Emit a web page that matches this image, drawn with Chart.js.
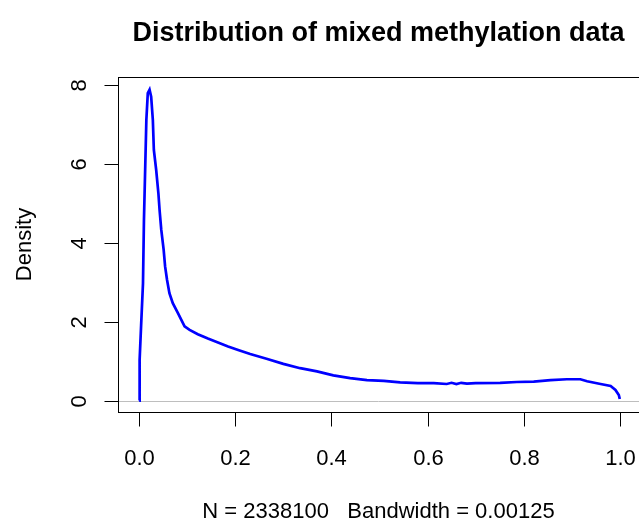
<!DOCTYPE html>
<html>
<head>
<meta charset="utf-8">
<script src="https://cdn.jsdelivr.net/npm/chart.js@4/dist/chart.umd.min.js"></script>
<style>
  body { margin: 0; background: #fff; }
  #wrap { width: 639px; height: 522px; }
</style>
</head>
<body>
<div id="wrap"><canvas id="density" width="639" height="522"></canvas></div>
<script>
// density curve
const xVals = [0.000, 0.001, 0.004, 0.008, 0.010, 0.0125, 0.015, 0.018, 0.0217, 0.025,
  0.0285, 0.0306, 0.0354, 0.040, 0.0425, 0.046, 0.051, 0.054, 0.058, 0.063,
  0.070, 0.081, 0.0875, 0.0945, 0.105, 0.122, 0.143, 0.164, 0.185, 0.206,
  0.231, 0.265, 0.300, 0.335, 0.370, 0.404, 0.439, 0.474, 0.509, 0.543,
  0.580, 0.613, 0.640, 0.650, 0.660, 0.670, 0.682, 0.700, 0.751, 0.786,
  0.821, 0.856, 0.890, 0.918, 0.932, 0.960, 0.981, 0.991, 0.998, 1.000];
const densVals = [0.00, 1.03, 1.88, 2.97, 4.58, 5.85, 7.11, 7.79, 7.88, 7.70,
  7.11, 6.35, 5.85, 5.26, 4.83, 4.33, 3.82, 3.40, 3.06, 2.72,
  2.47, 2.21, 2.05, 1.88, 1.79, 1.68, 1.57, 1.47, 1.37, 1.28,
  1.18, 1.06, 0.93, 0.82, 0.74, 0.64, 0.57, 0.52, 0.50, 0.46,
  0.44, 0.44, 0.42, 0.45, 0.42, 0.45, 0.43, 0.44, 0.45, 0.47,
  0.48, 0.52, 0.54, 0.54, 0.49, 0.42, 0.37, 0.27, 0.14, 0.04];
const xTicks = [0, 0.2, 0.4, 0.6, 0.8, 1.0];
const xTickLabels = ["0.0", "0.2", "0.4", "0.6", "0.8", "1.0"];
const yTicks = [0, 2, 4, 6, 8];
const yTickLabels = ["0", "2", "4", "6", "8"];
const titleText = "Distribution of mixed methylation data";
const subText = "N = 2338100   Bandwidth = 0.00125";
const yTitle = "Density";

const pts = xVals.map((x, i) => ({ x: x, y: densVals[i] }));

// R style box, axes and text
const rAxes = {
  id: "rAxes",
  beforeDatasetsDraw(chart) {
    const ctx = chart.ctx;
    const a = chart.chartArea;
    const y0 = Math.round(chart.scales.y.getPixelForValue(0)) + 0.5;
    ctx.save();
    ctx.strokeStyle = "#bebebe";
    ctx.lineWidth = 1;
    ctx.beginPath();
    ctx.moveTo(a.left, y0);
    ctx.lineTo(a.right, y0);
    ctx.stroke();
    ctx.restore();
  },
  afterDraw(chart) {
    const ctx = chart.ctx;
    const a = chart.chartArea;
    const xs = chart.scales.x, ys = chart.scales.y;
    ctx.save();
    ctx.strokeStyle = "#000";
    ctx.lineWidth = 1;
    const L = Math.round(a.left) + 0.5, B = Math.round(a.bottom) + 0.5, T = Math.round(a.top) + 0.5;
    ctx.strokeRect(L, T, 700, B - T);

    ctx.fillStyle = "#000";
    ctx.font = "22px 'Liberation Sans', Arial, sans-serif";
    ctx.textAlign = "center";
    ctx.textBaseline = "alphabetic";
    xTicks.forEach((v, i) => {
      const px = Math.round(xs.getPixelForValue(v)) + 0.5;
      ctx.beginPath();
      ctx.moveTo(px, B);
      ctx.lineTo(px, B + 14);
      ctx.stroke();
      ctx.fillText(xTickLabels[i], px, 465);
    });
    yTicks.forEach((v, i) => {
      const py = Math.round(ys.getPixelForValue(v)) + 0.5;
      ctx.beginPath();
      ctx.moveTo(L, py);
      ctx.lineTo(L - 14, py);
      ctx.stroke();
      ctx.save();
      ctx.translate(86, py);
      ctx.rotate(-Math.PI / 2);
      ctx.fillText(yTickLabels[i], 0, 0);
      ctx.restore();
    });

    ctx.save();
    ctx.translate(31, (a.top + a.bottom) / 2);
    ctx.rotate(-Math.PI / 2);
    ctx.fillText(yTitle, 0, 0);
    ctx.restore();

    ctx.fillText(subText, (a.left + 639) / 2, 518);
    ctx.font = "bold 27px 'Liberation Sans', Arial, sans-serif";
    ctx.fillText(titleText, (a.left + 639) / 2, 41);
    ctx.restore();
  }
};

new Chart(document.getElementById("density"), {
  type: "line",
  data: {
    datasets: [{
      data: pts,
      borderColor: "#0000ff",
      borderWidth: 2.7,
      pointRadius: 0,
      tension: 0,
      fill: false
    }]
  },
  options: {
    responsive: false,
    animation: false,
    devicePixelRatio: 1,
    layout: { padding: { left: 118, top: 77, right: 0, bottom: 110 } },
    plugins: { legend: { display: false }, tooltip: { enabled: false }, title: { display: false } },
    scales: {
      x: { type: "linear", min: -0.044, max: 1.04, display: false },
      y: { type: "linear", min: -0.29, max: 8.2, display: false }
    }
  },
  plugins: [rAxes]
});
</script>
</body>
</html>
